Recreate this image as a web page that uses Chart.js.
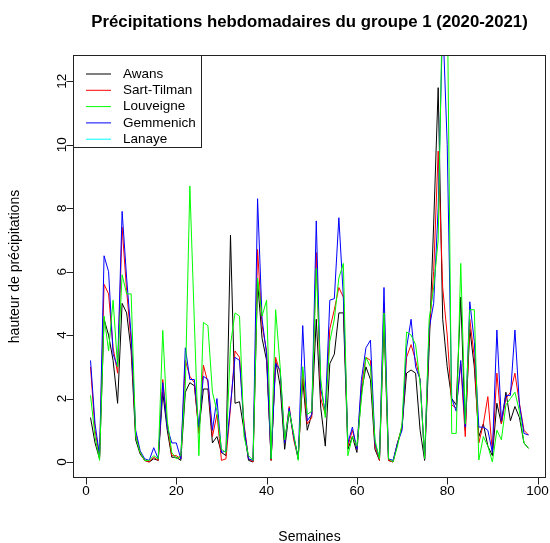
<!DOCTYPE html>
<html>
<head>
<meta charset="utf-8">
<script src="https://cdn.jsdelivr.net/npm/chart.js@4/dist/chart.umd.min.js"></script>
<style>
  body { margin: 0; background: #fff; }
  canvas { display: block; }
</style>
</head>
<body>
<canvas id="chart" width="550" height="543"></canvas>
<script>
// weekly precipitation, weeks 1..98
const weeks = Array.from({length: 98}, (_, i) => i + 1)

const awans = [1.4,0.6,0.1,4.5,4.0,3.2,1.85,5.0,4.7,3.5, 0.7,0.25,0.05,0.0,0.1,0.05,2.2,1.0,0.15,0.15,
  0.05,2.2,2.5,2.4,1.0,2.3,2.3,0.6,0.8,0.3, 0.2,7.15,1.85,1.9,1.0,0.05,0.0,5.7,3.9,3.2,
  0.05,3.2,2.4,0.4,1.6,0.8,0.15,2.6,1.0,1.5, 4.5,1.7,0.5,3.1,3.4,4.7,4.7,0.4,0.8,0.3,
  2.2,3.0,2.6,0.4,0.05,4.4,0.05,0.0,0.6,1.1, 2.8,2.9,2.8,1.0,0.05,3.6,7.5,11.8,4.5,3.0,
  2.0,1.8,5.2,1.0,4.2,3.0,0.8,1.2,0.5,0.2, 1.85,1.2,2.2,1.3,1.75,1.4,0.6,0.43]

const sartTilman = [3.0,1.0,0.15,5.6,5.3,3.6,2.8,7.4,5.4,3.8, 0.9,0.3,0.05,0.0,0.15,0.05,2.6,1.2,0.2,0.2,
  0.1,3.2,2.7,2.5,0.9,3.05,2.5,0.8,1.5,0.05, 0.1,1.7,3.5,3.3,1.2,0.1,0.0,6.7,4.3,3.5,
  0.05,3.3,2.8,0.6,1.75,0.7,0.1,2.9,1.2,1.4, 6.6,2.0,1.5,4.2,4.8,5.5,5.2,0.5,1.0,0.4,
  2.4,3.3,3.2,0.5,0.05,5.0,0.05,0.0,0.6,1.1, 3.3,3.7,3.2,2.6,0.1,4.0,6.0,9.8,5.5,4.0,
  1.8,1.7,3.1,0.8,4.5,3.3,0.6,1.2,2.06,0.3, 2.8,1.2,2.0,2.2,2.8,1.85,1.0,0.85]

const louveigne = [2.1,0.8,0.05,4.6,3.5,5.1,3.0,5.9,5.3,5.3, 0.8,0.3,0.05,0.05,0.2,0.1,4.15,1.3,0.3,0.1,
  0.2,2.4,8.7,4.4,0.2,4.4,4.3,2.2,1.6,0.4, 0.3,3.7,4.7,4.6,0.8,0.2,0.05,5.8,4.6,5.1,
  0.1,4.8,3.0,0.7,1.6,0.9,0.05,3.0,1.5,1.6, 6.1,2.6,1.4,3.8,4.5,5.8,6.26,0.2,0.8,0.5,
  2.0,3.3,3.0,0.7,0.1,4.7,0.1,0.0,0.5,1.2, 4.1,4.0,3.7,2.5,0.1,4.5,5.5,7.0,15.0,15.0,
  0.9,0.9,6.26,1.2,4.8,4.8,0.06,0.8,0.5,0.0, 1.0,0.7,1.8,2.0,2.2,1.6,0.6,0.43]

const gemmenich = [3.2,1.2,0.2,6.5,6.0,3.4,3.0,7.9,5.8,4.0, 1.0,0.35,0.1,0.05,0.45,0.1,2.5,1.1,0.6,0.6,
  0.1,3.6,2.6,2.6,1.1,2.7,2.6,1.0,2.0,0.3, 0.35,1.8,3.3,3.2,1.1,0.1,0.05,8.3,4.5,3.4,
  0.1,3.1,2.9,0.6,1.7,0.8,0.1,4.3,1.3,1.5, 7.6,2.3,1.6,5.1,5.15,7.7,5.2,0.6,1.1,0.4,
  2.6,3.6,3.84,0.6,0.1,5.5,0.1,0.05,0.6,1.0, 3.6,4.5,3.0,2.6,0.1,4.2,5.0,8.0,14.0,10.0,
  2.0,1.6,3.2,1.1,5.05,3.8,1.1,1.1,1.0,0.3, 4.16,1.3,2.1,2.1,4.16,1.8,0.9,0.85]

// Lanaye is in the legend but no line of it shows on the plot
const lanaye = weeks.map(() => null)

const stations = ['Awans', 'Sart-Tilman', 'Louveigne', 'Gemmenich', 'Lanaye']
const colors = ['#000000', '#ff0000', '#00ff00', '#0000ff', '#00ffff']
const series = [awans, sartTilman, louveigne, gemmenich, lanaye]
// green on top, then blue, red, black
const drawOrder = [4, 3, 0, 1, 5]

const xTicks = [0, 20, 40, 60, 80, 100]
const yTicks = [0, 2, 4, 6, 8, 10, 12]

const FONT = "'Liberation Sans', Arial, sans-serif"

// R style frame, axes, titles and legend
const baseStyle = {
  id: 'baseStyle',
  beforeDraw(chart) {
    const ctx = chart.ctx
    ctx.save()
    ctx.fillStyle = '#fff'
    ctx.fillRect(0, 0, chart.width, chart.height)
    ctx.restore()
  },
  afterDraw(chart) {
    const ctx = chart.ctx
    const a = chart.chartArea
    const xs = chart.scales.x, ys = chart.scales.y
    ctx.save()
    ctx.strokeStyle = '#222'
    ctx.fillStyle = '#000'
    ctx.lineWidth = 1

    // box
    ctx.strokeRect(Math.round(a.left) + 0.5, Math.round(a.top) + 0.5,
      Math.round(a.right - a.left) - 1, Math.round(a.bottom - a.top) - 1)

    // x axis
    ctx.font = '13.5px ' + FONT
    ctx.textAlign = 'center'
    ctx.textBaseline = 'middle'
    const yb = Math.round(a.bottom) - 0.5
    ctx.beginPath()
    ctx.moveTo(xs.getPixelForValue(xTicks[0]), yb)
    ctx.lineTo(xs.getPixelForValue(xTicks[xTicks.length - 1]), yb)
    xTicks.forEach(t => {
      const px = Math.round(xs.getPixelForValue(t)) + 0.5
      ctx.moveTo(px, yb)
      ctx.lineTo(px, yb + 7)
    })
    ctx.stroke()
    xTicks.forEach(t => ctx.fillText(String(t), xs.getPixelForValue(t), 491))

    // y axis (labels parallel to the axis)
    const xl = Math.round(a.left) + 0.5
    ctx.beginPath()
    ctx.moveTo(xl, ys.getPixelForValue(yTicks[0]))
    ctx.lineTo(xl, ys.getPixelForValue(yTicks[yTicks.length - 1]))
    yTicks.forEach(t => {
      const py = Math.round(ys.getPixelForValue(t)) + 0.5
      ctx.moveTo(xl, py)
      ctx.lineTo(xl - 7, py)
    })
    ctx.stroke()
    yTicks.forEach(t => {
      ctx.save()
      ctx.translate(62, ys.getPixelForValue(t))
      ctx.rotate(-Math.PI / 2)
      ctx.fillText(String(t), 0, 0)
      ctx.restore()
    })

    // axis titles
    ctx.font = '14px ' + FONT
    ctx.fillText('Semaines', (a.left + a.right) / 2, 537)
    ctx.save()
    ctx.translate(15, (a.top + a.bottom) / 2)
    ctx.rotate(-Math.PI / 2)
    ctx.fillText('hauteur de précipitations', 0, 0)
    ctx.restore()

    // main title
    ctx.font = 'bold 16.8px ' + FONT
    ctx.fillText('Précipitations hebdomadaires du groupe 1 (2020-2021)', (a.left + a.right) / 2, 22)

    // legend
    const lx = Math.round(a.left) + 0.5, ly = Math.round(a.top) + 0.5
    ctx.fillStyle = '#fff'
    ctx.fillRect(lx, ly, 128, 92)
    ctx.strokeRect(lx, ly, 128, 92)
    ctx.font = '13.5px ' + FONT
    ctx.textAlign = 'left'
    stations.forEach((name, i) => {
      const ry = 74 + i * 16.3
      ctx.strokeStyle = colors[i]
      ctx.beginPath()
      ctx.moveTo(86, ry)
      ctx.lineTo(111, ry)
      ctx.stroke()
      ctx.fillStyle = '#000'
      ctx.fillText(name, 123, ry)
    })
    ctx.restore()
  }
}

const datasets = stations.map((name, i) => ({
  label: name,
  data: series[i].map((v, j) => ({x: weeks[j], y: v})),
  borderColor: colors[i],
  borderWidth: 1,
  pointRadius: 0,
  tension: 0,
  fill: false,
  spanGaps: false,
  order: drawOrder[i]
}))

new Chart(document.getElementById('chart'), {
  type: 'line',
  data: { datasets: datasets },
  options: {
    responsive: false,
    animation: false,
    devicePixelRatio: 1,
    layout: { padding: { left: 73, right: 4, top: 55, bottom: 65 } },
    scales: {
      x: { type: 'linear', min: -2.88, max: 101.88, display: false },
      y: { min: -0.505, max: 12.83, display: false }
    },
    plugins: {
      legend: { display: false },
      title: { display: false },
      tooltip: { enabled: false }
    }
  },
  plugins: [baseStyle]
})
</script>
</body>
</html>
